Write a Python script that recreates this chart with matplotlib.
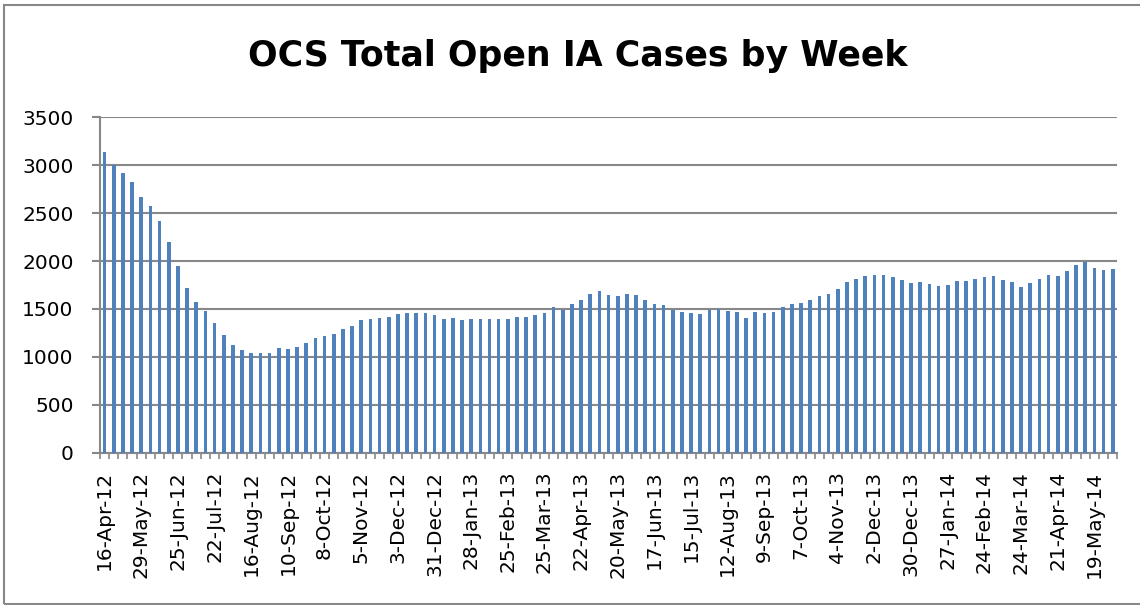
import matplotlib
matplotlib.use("Agg")
import matplotlib.pyplot as plt
import numpy as np

# weekly open case counts (111 weeks)
open_cases = [
    3142, 3007, 2920, 2823, 2667, 2576, 2420, 2201, 1944, 1715,
    1569, 1476, 1351, 1226, 1128, 1076, 1038, 1045, 1045, 1097,
    1087, 1108, 1146, 1198, 1215, 1236, 1288, 1319, 1382, 1396,
    1410, 1420, 1448, 1455, 1455, 1462, 1434, 1399, 1410, 1385,
    1392, 1399, 1392, 1392, 1392, 1413, 1413, 1437, 1455, 1517,
    1493, 1552, 1590, 1653, 1684, 1649, 1637, 1653, 1649, 1597,
    1549, 1538, 1490, 1472, 1462, 1444, 1490, 1497, 1483, 1465,
    1410, 1465, 1455, 1472, 1517, 1549, 1566, 1590, 1632, 1660,
    1712, 1781, 1809, 1845, 1858, 1851, 1833, 1806, 1774, 1781,
    1764, 1743, 1750, 1795, 1795, 1816, 1837, 1840, 1806, 1778,
    1733, 1767, 1809, 1851, 1840, 1896, 1962, 1993, 1931, 1906,
    1913,
]

# every 4th week is labelled
week_labels = [
    "16-Apr-12", "29-May-12", "25-Jun-12", "22-Jul-12", "16-Aug-12",
    "10-Sep-12", "8-Oct-12", "5-Nov-12", "3-Dec-12", "31-Dec-12",
    "28-Jan-13", "25-Feb-13", "25-Mar-13", "22-Apr-13", "20-May-13",
    "17-Jun-13", "15-Jul-13", "12-Aug-13", "9-Sep-13", "7-Oct-13",
    "4-Nov-13", "2-Dec-13", "30-Dec-13", "27-Jan-14", "24-Feb-14",
    "24-Mar-14", "21-Apr-14", "19-May-14",
]
label_step = 4

grey = "#888888"

fig = plt.figure(figsize=(11.4, 6.05), dpi=100)
ax = fig.add_axes([0.0877, 0.2517, 0.8924, 0.5544])

x = np.arange(len(open_cases))
ax.bar(x, open_cases, width=0.4, color="#4F81BD", zorder=3)

ax.set_xlim(-0.5, len(open_cases) - 0.5)
ax.set_ylim(0, 3500)
ax.set_yticks(np.arange(0, 3501, 500))
ax.grid(axis="y", color=grey, linewidth=1.5, zorder=0)

ax.set_xticks(x[::label_step])
ax.set_xticklabels(week_labels, rotation=90, fontsize=14.5)
ax.set_xticks(np.arange(-0.5, len(open_cases)), minor=True)
ax.tick_params(axis="x", which="major", length=0, pad=13)
ax.tick_params(axis="x", which="minor", length=4.5, width=1.2, color=grey)
ax.tick_params(axis="y", length=6, width=1.5, color=grey, labelsize=14.5, pad=13)

for side in ["top", "right"]:
    ax.spines[side].set_visible(False)
ax.spines["left"].set_color(grey)
ax.spines["left"].set_linewidth(1.5)
ax.spines["bottom"].set_color(grey)
ax.spines["bottom"].set_linewidth(1.5)

fig.text(0.507, 0.907, "OCS Total Open IA Cases by Week", ha="center", va="center",
         fontsize=25, fontweight="bold")

# chart area border (runs off the right edge in the original)
border = plt.Rectangle((0.0035, 0.0017), 1.1, 0.99, transform=fig.transFigure,
                       fill=False, edgecolor=grey, linewidth=1.5)
fig.patches.append(border)

fig.savefig("out.png", dpi=100)
plt.close()
